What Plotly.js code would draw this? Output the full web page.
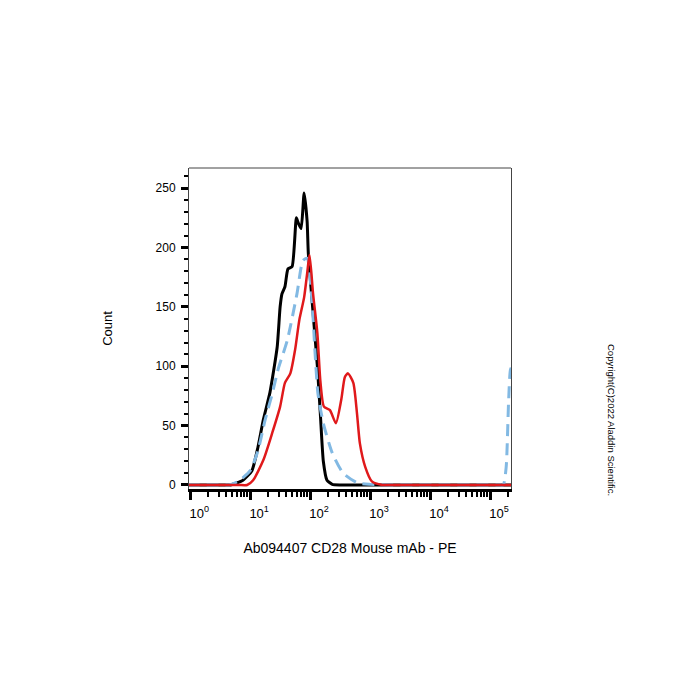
<!DOCTYPE html>
<html>
<head>
<meta charset="utf-8">
<script src="https://cdn.plot.ly/plotly-3.0.1.min.js"></script>
<style>html,body{margin:0;padding:0;background:#fff;}#chart{width:700px;height:700px;}</style>
</head>
<body>
<div id="chart"></div>
<script>
// Black (control) histogram
const blackX = [0.9, 2, 3.2, 4.68, 7.59, 10.7, 13.5, 16.6, 21.4, 28.2, 31.6, 33.9, 38.0, 42.7, 50.1, 58.9, 63.1, 70.8, 79.4, 89.1, 93.3, 112, 132, 148, 166, 191, 234, 320, 600, 2000, 10000, 50000, 300000];
const blackY = [0, 0, 0, 0, 4, 12, 32, 55, 78, 116, 150, 161, 167, 182, 184, 225, 221, 216, 246, 222, 195, 145, 100, 60, 20, 4, 0.5, 0, 0, 0, 0, 0, 0];

// Blue dashed histogram
const blueX = [0.9, 2, 3.2, 4.47, 6.3, 10.0, 13.5, 17.8, 23.4, 29.5, 41.7, 60.3, 75.9, 89.1, 107, 120, 135, 166, 234, 355, 603, 1000, 2138, 5000, 20000, 80000, 140000, 166000, 186000, 204000, 219000, 234000];
const blueY = [0, 0, 0, 0, 3, 12, 29, 55, 77, 98, 122, 161, 189, 191, 156, 114, 77, 52, 27, 10, 2, 0.5, 0, 0, 0, 0, 0, 0, 15, 70, 97, 100];

// Red (CD28 stained) histogram
const redX = [0.9, 2, 4, 6.5, 8.9, 11.2, 16.6, 23.4, 31.6, 38.0, 46.8, 56.2, 66.1, 79.4, 89.1, 97.7, 112, 132, 148, 170, 214, 269, 331, 380, 427, 525, 603, 676, 832, 1070, 1585, 2500, 6000, 20000, 70000, 300000];
const redY = [0, 0, 0, 0, 0, 4, 21, 44, 66, 86, 94, 114, 139, 158, 178, 194, 161, 128, 88, 66, 63, 52, 72, 91, 94, 86, 61, 35, 15, 3, 0, 0, 0, 0, 0, 0];

const xTickVals = [1, 10, 100, 1000, 10000, 100000];
const xTickText = ['10<sup>0</sup>', '10<sup>1</sup>', '10<sup>2</sup>', '10<sup>3</sup>', '10<sup>4</sup>', '10<sup>5</sup>'];

const font = 'Arial, "Liberation Sans", sans-serif';

const traces = [
  {x: blackX, y: blackY, type: 'scatter', mode: 'lines', line: {color: '#000000', width: 3, shape: 'spline', smoothing: 0.5}, hoverinfo: 'skip'},
  {x: blueX, y: blueY, type: 'scatter', mode: 'lines', line: {color: '#82b9e3', width: 3, dash: '12px,7px', shape: 'spline', smoothing: 0.6}, hoverinfo: 'skip'},
  {x: redX, y: redY, type: 'scatter', mode: 'lines', line: {color: '#e0191b', width: 2.5, shape: 'spline', smoothing: 0.6}, hoverinfo: 'skip'}
];

const layout = {
  width: 700, height: 700,
  margin: {l: 189, r: 189, t: 168, b: 211},
  paper_bgcolor: '#ffffff', plot_bgcolor: '#ffffff',
  showlegend: false,
  font: {family: font, color: '#000', size: 12},
  xaxis: {
    type: 'log', range: [-0.02, 5.35],
    tickmode: 'array', tickvals: xTickVals, ticktext: xTickText,
    ticks: 'outside', ticklen: 8, tickwidth: 3, tickcolor: '#000',
    ticklabelshift: 9, ticklabelstandoff: 2,
    minor: {ticks: 'outside', dtick: 'D1', ticklen: 5, tickwidth: 2, tickcolor: '#000', showgrid: false},
    showline: true, linecolor: '#000', linewidth: 3,
    showgrid: false, zeroline: false,
    tickfont: {family: font, size: 13, color: '#000'},
    title: {text: 'Ab094407 CD28 Mouse mAb - PE', font: {family: font, size: 14, color: '#000'}, standoff: 24},
    automargin: false
  },
  yaxis: {
    range: [-3.4, 267],
    tickmode: 'linear', tick0: 0, dtick: 50,
    ticks: 'outside', ticklen: 7, tickwidth: 3, tickcolor: '#000',
    ticklabelstandoff: 3,
    minor: {ticks: 'outside', dtick: 10, ticklen: 4, tickwidth: 2, tickcolor: '#000', showgrid: false},
    showline: true, linecolor: '#444', linewidth: 1, mirror: true,
    showgrid: false, zeroline: false,
    tickfont: {family: font, size: 12, color: '#000'},
    title: {text: 'Count', font: {family: font, size: 13, color: '#000'}, standoff: 40},
    automargin: false
  },
  shapes: [
    {type: 'line', xref: 'paper', yref: 'paper', x0: 0, x1: 1, y0: 1, y1: 1, line: {color: '#444', width: 1}}
  ],
  annotations: [
    {text: 'Copyright(C)2022 Aladdin Scientific.', xref: 'paper', yref: 'paper',
     x: (612 - 189) / 322, y: (489 - 420) / 321, showarrow: false, textangle: 90,
     font: {family: font, size: 9.5, color: '#000'}, xanchor: 'center', yanchor: 'middle'}
  ]
};

Plotly.newPlot('chart', traces, layout, {staticPlot: true, displayModeBar: false});
</script>
</body>
</html>
